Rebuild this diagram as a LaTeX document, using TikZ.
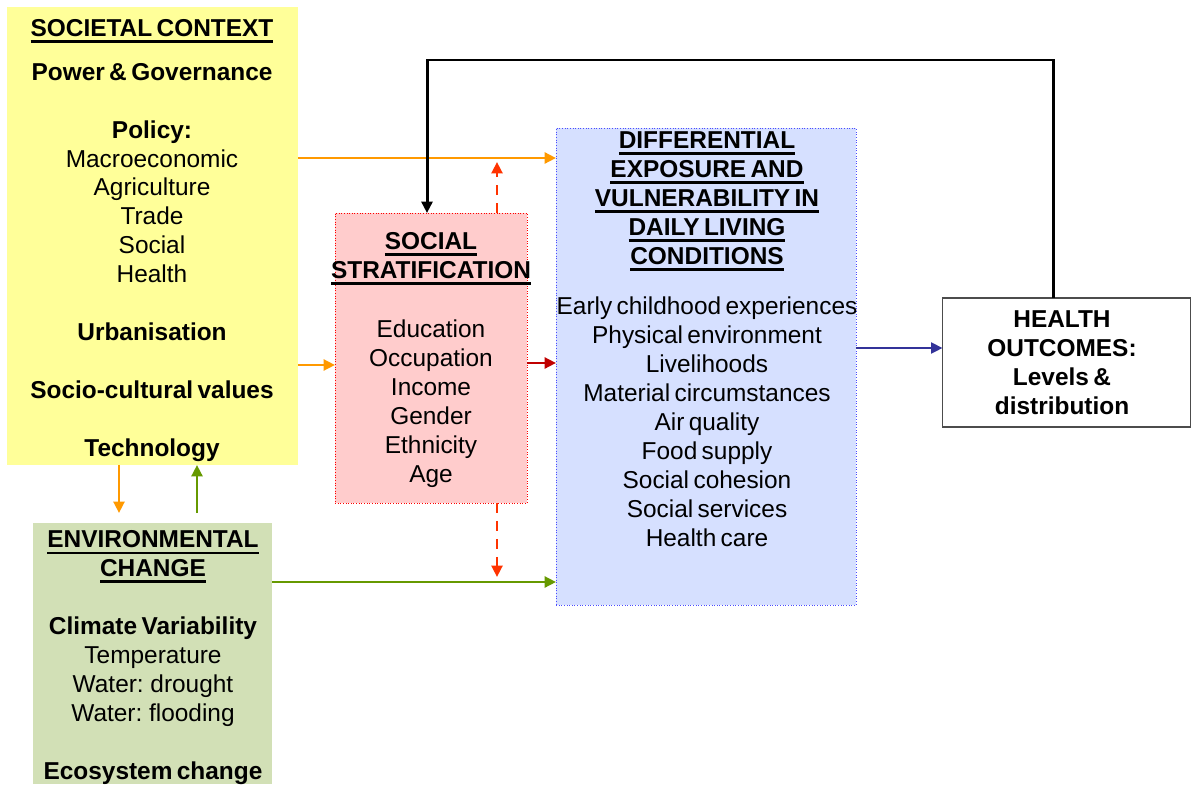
\documentclass[tikz,border=0pt]{standalone}
\usepackage{fontspec}
\setmainfont{Liberation Sans}[WordSpace=0.65]
\newcommand{\myul}[1]{\setbox0\hbox{#1}\rlap{\vrule height -2.0pt depth 3.6pt width \wd0}\box0}
\usetikzlibrary{arrows.meta}
\definecolor{yel}{HTML}{FFFF99}
\definecolor{envfill}{HTML}{D2E0B6}
\definecolor{pinkfill}{HTML}{FFCCCC}
\definecolor{bluefill}{HTML}{D6E0FF}
\definecolor{orangec}{HTML}{FF9900}
\definecolor{redd}{HTML}{FF3300}
\definecolor{darkred}{HTML}{C00000}
\definecolor{greenc}{HTML}{669900}
\definecolor{navy}{HTML}{333399}
\begin{document}
\begin{tikzpicture}[x=0.02cm,y=-0.02cm,
  box/.style={inner sep=0pt, outer sep=0pt, anchor=center},
  txt/.style={align=center, font=\fontsize{13.9}{16.5}\selectfont, inner sep=0pt},
  arr/.style={line width=1.5pt, -{Triangle[length=0.23cm,width=0.22cm]}},
  dsh/.style={arr, redd, dash pattern=on 0.2cm off 0.16cm}
]
\useasboundingbox (0,0) rectangle (1192,784);
% boxes
\node[box, fill=yel, minimum width=5.82cm, minimum height=9.16cm] (soc) at (152.5,236) {};
\node[box, fill=envfill, minimum width=4.78cm, minimum height=5.22cm] (env) at (152.5,653.5) {};
\node[box, fill=pinkfill, draw=red, densely dotted, line width=0.5pt, minimum width=3.84cm, minimum height=5.8cm] (pink) at (431,358) {};
\node[box, fill=bluefill, draw=blue!70, densely dotted, line width=0.5pt, minimum width=6cm, minimum height=9.54cm] (blue) at (706,366.5) {};
\node[box, fill=white, draw=gray!60!black, line width=1pt, minimum width=4.96cm, minimum height=2.58cm] (health) at (1066.5,362.5) {};
% texts
\node[txt] (soctxt) at (152,241) {\textbf{\myul{SOCIETAL CONTEXT}}\\[8pt]
  \textbf{Power \& Governance}\\[16.5pt]
  \textbf{Policy:}\\ Macroeconomic\\ Agriculture\\ Trade\\ Social\\ Health\\[16.5pt]
  \textbf{Urbanisation}\\[16.5pt]
  \textbf{Socio-cultural values}\\[16.5pt]
  \textbf{Technology}};
\node[txt] (pinktxt) at (431,360) {\textbf{\myul{SOCIAL}}\\ \textbf{\myul{STRATIFICATION}}\\[17.4pt]
  Education\\ Occupation\\ Income\\ Gender\\ Ethnicity\\ Age};
\node[txt] (bluetxt) at (707,339.5) {\textbf{\myul{DIFFERENTIAL}}\\ \textbf{\myul{EXPOSURE AND}}\\
  \textbf{\myul{VULNERABILITY IN}}\\ \textbf{\myul{DAILY LIVING}}\\ \textbf{\myul{CONDITIONS}}\\[12pt]
  Early childhood experiences\\ Physical environment\\ Livelihoods\\ Material circumstances\\
  Air quality\\ Food supply\\ Social cohesion\\ Social services\\ Health care};
\node[txt, font=\fontsize{13.9}{16.5}\selectfont\bfseries] (healthtxt) at (1062,363) {HEALTH\\ OUTCOMES:\\ Levels \&\\ distribution};
\node[txt] (envtxt) at (153,658) {\textbf{\myul{ENVIRONMENTAL}}\\ \textbf{\myul{CHANGE}}\\[16.5pt]
  \textbf{Climate Variability}\\ Temperature\\ Water: drought\\ Water: flooding\\[16.5pt]
  \textbf{Ecosystem change}};
% helper coordinates
\coordinate (t1) at (119,513);
\coordinate (t2) at (197,513);
\coordinate (d1) at (497,162);
\coordinate (d2) at (497,577);
% connectors
\draw[arr, orangec] (soc.east |- 0,158) -- (blue.west |- 0,158);
\draw[arr, orangec] (soc.east |- 0,365) -- (pink.west |- 0,365);
\draw[arr, darkred] (pink.east |- 0,363) -- (blue.west |- 0,363);
\draw[arr, greenc] (env.east |- 0,582) -- (blue.west |- 0,582);
\draw[arr, navy, line width=1.1pt] (blue.east |- 0,348) -- (health.west |- 0,348);
\draw[arr, orangec] (t1 |- soc.south) -- (t1);
\draw[arr, greenc] (t2) -- (t2 |- soc.south);
\draw[dsh] (d1 |- pink.north) -- (d1);
\draw[dsh] (d2 |- pink.south) -- (d2);
\draw[arr, black, line width=1.7pt] (1053,0 |- health.north) |- (427,60) -- (427,0 |- pink.north);
\end{tikzpicture}
\end{document}
